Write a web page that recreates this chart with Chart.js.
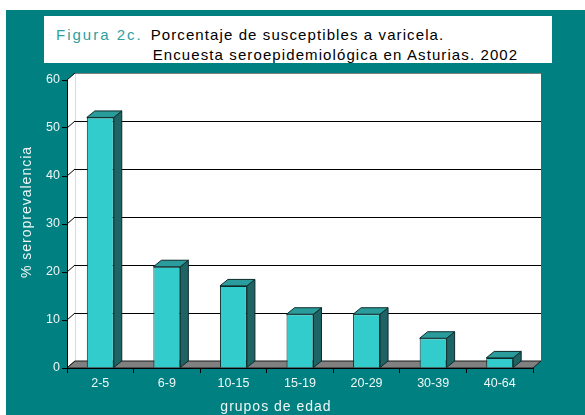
<!DOCTYPE html>
<html><head><meta charset="utf-8">
<script src="https://cdn.jsdelivr.net/npm/chart.js@4.4.1/dist/chart.umd.min.js"></script>
<style>
html,body{margin:0;padding:0;background:#fff;}
#wrap{position:relative;width:585px;height:415px;overflow:hidden;}
canvas{position:absolute;left:0;top:0;}
#tbox{position:absolute;left:44px;top:16px;width:508px;height:47px;background:#fff;font-family:"Liberation Sans",Arial,sans-serif;font-size:15px;line-height:15px;white-space:nowrap;}
#tbox span{position:absolute;}
</style></head><body>
<div id="wrap"><canvas id="c" width="585" height="415"></canvas>
<div id="tbox"><span style="left:12px;top:10.6px;color:#2E9E9E;letter-spacing:2px">Figura 2c.</span><span style="left:106.7px;top:10.6px;color:#000;letter-spacing:1.1px">Porcentaje de susceptibles a varicela.</span><span style="left:108.7px;top:31.3px;color:#000;letter-spacing:1.1px">Encuesta seroepidemiológica en Asturias. 2002</span></div></div>
<script>
const categories = ['2-5','6-9','10-15','15-19','20-29','30-39','40-64'];
const seroprevalencia = [52.2, 21.1, 17.1, 11.2, 11.2, 6.2, 2.1];
const yTickValues = [0, 10, 20, 30, 40, 50, 60];
const xAxisTitle = 'grupos de edad';
const yAxisTitle = '% seroprevalencia';

const FONT = '"Liberation Sans", Arial, sans-serif';
const TEXT = '#EEF6F6';
const DX = 8, DY = -7;      // wall depth
const BDX = 8, BDY = -6.5;  // bar depth

Chart.defaults.font.family = FONT;

const scene3d = {
  id: 'scene3d',
  beforeDraw(chart) {
    const ctx = chart.ctx, a = chart.chartArea, y = chart.scales.y;
    ctx.save();
    ctx.fillStyle = '#ffffff'; ctx.fillRect(0, 0, chart.width, chart.height);
    ctx.fillStyle = '#008080'; ctx.fillRect(6, 10, chart.width - 6, chart.height - 10);
    const L = a.left, R = a.right;
    const T = y.getPixelForValue(yTickValues[yTickValues.length - 1]);
    const B = y.getPixelForValue(yTickValues[0]);
    // left wall
    ctx.fillStyle = '#ffffff';
    ctx.beginPath(); ctx.moveTo(L, T); ctx.lineTo(L + DX, T + DY); ctx.lineTo(L + DX, B + DY); ctx.lineTo(L, B); ctx.closePath(); ctx.fill();
    // back wall
    ctx.fillRect(L + DX, T + DY, R - L, B - T);
    // corner line
    ctx.strokeStyle = '#C4E3E3'; ctx.lineWidth = 1;
    ctx.beginPath(); ctx.moveTo(Math.round(L + DX) + 0.5, T + DY); ctx.lineTo(Math.round(L + DX) + 0.5, B + DY); ctx.stroke();
    // gridlines on back wall + diagonals
    yTickValues.forEach(v => {
      const py = y.getPixelForValue(v);
      const gy = Math.round(py + DY) + 0.5;
      if (v !== yTickValues[0]) {
        ctx.strokeStyle = (v === yTickValues[yTickValues.length - 1]) ? '#808080' : '#000000';
        ctx.beginPath(); ctx.moveTo(L + DX, gy); ctx.lineTo(R + DX, gy); ctx.stroke();
      }
      ctx.strokeStyle = '#000000';
      ctx.beginPath(); ctx.moveTo(L, py); ctx.lineTo(L + DX, py + DY); ctx.stroke();
    });
    // floor
    ctx.fillStyle = '#808080'; ctx.strokeStyle = '#1a1a1a';
    ctx.beginPath(); ctx.moveTo(L, B); ctx.lineTo(L + DX, B + DY); ctx.lineTo(R + DX, B + DY); ctx.lineTo(R, B); ctx.closePath(); ctx.fill(); ctx.stroke();
    ctx.restore();
  },
  afterDatasetsDraw(chart) {
    const ctx = chart.ctx;
    const meta = chart.getDatasetMeta(0);
    ctx.save();
    ctx.lineWidth = 1; ctx.strokeStyle = '#0d2a2a'; ctx.lineJoin = 'round';
    meta.data.forEach(bar => {
      const p = bar.getProps(['x', 'y', 'base', 'width'], true);
      const L = p.x - p.width / 2, R = p.x + p.width / 2, t = p.y, b = p.base;
      // side face
      ctx.fillStyle = '#1E6464';
      ctx.beginPath(); ctx.moveTo(R, t); ctx.lineTo(R + BDX, t + BDY); ctx.lineTo(R + BDX, b + BDY); ctx.lineTo(R, b); ctx.closePath(); ctx.fill(); ctx.stroke();
      // top face
      ctx.fillStyle = '#2A9C9C';
      ctx.beginPath(); ctx.moveTo(L, t); ctx.lineTo(L + BDX, t + BDY); ctx.lineTo(R + BDX, t + BDY); ctx.lineTo(R, t); ctx.closePath(); ctx.fill(); ctx.stroke();
    });
    ctx.restore();
  },
  afterDraw(chart) {
    const ctx = chart.ctx;
    ctx.save();
    ctx.fillStyle = TEXT;
    ctx.font = '14px ' + FONT;
    try { ctx.letterSpacing = '1px'; } catch (e) {}
    ctx.textAlign = 'center'; ctx.textBaseline = 'alphabetic';
    ctx.fillText(xAxisTitle, 276, 410.5);
    ctx.translate(30.5, 212); ctx.rotate(-Math.PI / 2);
    ctx.fillText(yAxisTitle, 0, 0);
    ctx.restore();
  }
};

new Chart(document.getElementById('c'), {
  type: 'bar',
  data: {
    labels: categories,
    datasets: [{
      data: seroprevalencia,
      backgroundColor: '#33CCCC',
      borderColor: '#0d2a2a',
      borderWidth: 1,
      barPercentage: 0.405,
      categoryPercentage: 1
    }]
  },
  options: {
    responsive: false,
    animation: false,
    events: [],
    layout: { padding: { top: 80, right: 52, bottom: 0, left: 0 } },
    plugins: { legend: { display: false }, tooltip: { enabled: false }, title: { display: false } },
    scales: {
      x: {
        afterFit(s) { s.height = 47; },
        grid: { drawOnChartArea: false, drawTicks: true, tickLength: 5, color: '#000' },
        border: { display: true, color: '#000', width: 1 },
        ticks: { color: TEXT, font: { size: 12.5 }, padding: 3, maxRotation: 0 }
      },
      y: {
        min: 0, max: 60,
        afterFit(s) { s.width = 67; },
        afterBuildTicks(s) { s.ticks = yTickValues.map(v => ({ value: v })); },
        grid: { drawOnChartArea: false, drawTicks: true, tickLength: 5, color: '#000' },
        border: { display: true, color: '#000', width: 1 },
        ticks: { color: TEXT, font: { size: 12.5 }, padding: 2 }
      }
    }
  },
  plugins: [scene3d]
});
</script>
</body></html>
